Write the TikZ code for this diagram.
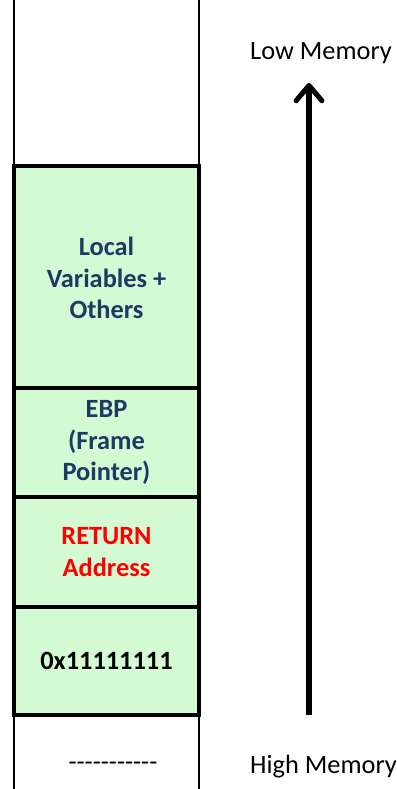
\documentclass[tikz,border=0pt]{standalone}
\usepackage{fontspec}
\setmainfont{Carlito}
\newfontfamily\dashfont{Carlito}[Ligatures=TeXOff]
\usetikzlibrary{arrows.meta}

\definecolor{cellgreen}{RGB}{212,250,212}
\definecolor{labelblue}{RGB}{31,56,100}
\definecolor{labelred}{RGB}{255,0,0}

\tikzset{
    cell/.style={draw=black, line width=3.4pt, fill=cellgreen,
        minimum width=5.55cm, inner sep=0pt, align=center,
        font=\fontsize{22.5}{26.8}\selectfont\bfseries},
    memlabel/.style={font=\fontsize{22.5}{26.8}\selectfont, inner sep=0pt}
}

\begin{document}
\begin{tikzpicture}
    \useasboundingbox (0,0) rectangle (11.88,23.67);

    % Stack column
    \pgfmathsetmacro{\colleft}{0.42}
    \pgfmathsetmacro{\colright}{5.97}
    \pgfmathsetmacro{\colmid}{3.195}

    \draw[line width=1pt] (\colleft, 0) -- (\colleft, 23.67);
    \draw[line width=1pt] (\colright, 0) -- (\colright, 23.67);

    % Frames
    \node[cell, minimum height=6.69cm, text=labelblue] (locals) at (\colmid, 15.33)
        {Local\\Variables +\\Others};
    \node[cell, minimum height=3.27cm, text=labelblue] (ebp) at (\colmid, 10.395)
        {EBP\\(Frame\\Pointer)};
    \node[cell, minimum height=3.30cm, text=labelred] (retaddr) at (\colmid, 7.11)
        {RETURN\\Address};
    \node[cell, minimum height=3.24cm, text=black] (argval) at (\colmid, 3.84)
        {0x11111111};

    \node[memlabel, font=\fontsize{22.5}{26.8}\dashfont] (dashes) at (3.39, 0.68) {-----------};

    % Memory direction
    \node[memlabel] (lowmem) at (9.63, 22.08) {Low Memory};
    \node[memlabel, anchor=west] (highmem) at (7.5, 0.66) {High Memory};

    \coordinate (arrowbot) at (9.27, 2.22);
    \coordinate (arrowtop) at (9.27, 21.18);
    \draw[line width=4.3pt, -{Straight Barb[length=13pt, width=22pt, line cap=round, line join=round]}]
        (arrowbot) -- (arrowtop);
\end{tikzpicture}
\end{document}
